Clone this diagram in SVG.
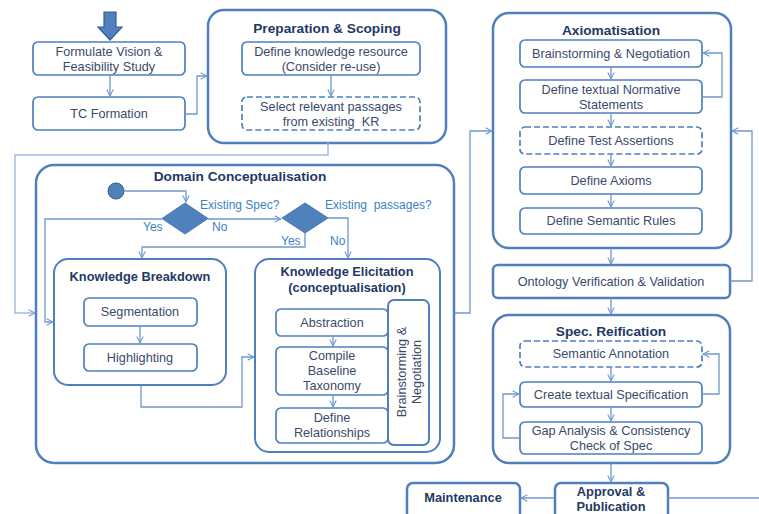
<svg xmlns="http://www.w3.org/2000/svg" width="759" height="514" viewBox="0 0 759 514">
<defs>
<marker id="arr" viewBox="0 0 10 10" refX="9" refY="5" markerWidth="8" markerHeight="8" markerUnits="userSpaceOnUse" orient="auto">
<path d="M1,1 L9,5 L1,9" fill="none" stroke="#6f97cc" stroke-width="1.3"/>
</marker>
</defs>
<style>
.outer{fill:#fff;stroke:#4f7fbd;stroke-width:2.5}
.mid{fill:#fff;stroke:#4f7fbd;stroke-width:2}
.box{fill:#fff;stroke:#4f7fbd;stroke-width:1.7}
.dash{fill:#fff;stroke:#4f7fbd;stroke-width:1.7;stroke-dasharray:6 3}
.t{font-family:"Liberation Sans",Arial,sans-serif;font-size:12.7px;fill:#3a4a6b;text-anchor:middle}
.h{font-family:"Liberation Sans",Arial,sans-serif;font-size:13.7px;font-weight:bold;fill:#1f3864;text-anchor:middle}
.h2{font-family:"Liberation Sans",Arial,sans-serif;font-size:12.8px;font-weight:bold;fill:#1f3864;text-anchor:middle}
.lbl{font-family:"Liberation Sans",Arial,sans-serif;font-size:12px;fill:#3b82c4;white-space:pre}
.c{fill:none;stroke:#6f97cc;stroke-width:1.3}
.cl{fill:none;stroke:#a2bde2;stroke-width:1.5}
.dec{fill:#4f81bd;stroke:#4a78b0;stroke-width:1}
</style>

<g id="start-arrow">
<polygon points="104,12 116,12 116,27 122,27 110,40 98,27 104,27" fill="#4f81bd" stroke="#385d8a" stroke-width="1.2"/>
</g>

<g id="formulate">
<rect class="box" x="33" y="42" width="152" height="33" rx="5"/>
<text class="t"><tspan x="109" y="56">Formulate Vision &amp;</tspan><tspan x="109" y="71">Feasibility Study</tspan></text>
</g>
<g id="tc-formation">
<rect class="box" x="33" y="97" width="152" height="33" rx="5"/>
<text class="t" x="109" y="118">TC Formation</text>
</g>

<g id="preparation">
<rect class="outer" x="208" y="10" width="238" height="133" rx="16"/>
<text class="h" x="327" y="33">Preparation &amp; Scoping</text>
</g>
<g id="define-kr">
<rect class="box" x="242" y="42" width="178" height="33" rx="5"/>
<text class="t"><tspan x="331" y="56">Define knowledge resource</tspan><tspan x="331" y="71">(Consider re-use)</tspan></text>
</g>
<g id="select-passages">
<rect class="dash" x="242" y="97" width="178" height="33" rx="5"/>
<text class="t" style="white-space:pre"><tspan x="331" y="111">Select relevant passages</tspan><tspan x="331" y="126">from existing  KR</tspan></text>
</g>

<g id="domain">
<rect class="outer" x="36" y="165" width="418" height="298" rx="18"/>
<text class="h" x="240" y="181">Domain Conceptualisation</text>
</g>
<g id="initial">
<circle cx="116" cy="191" r="8" fill="#4f81bd" stroke="#385d8a" stroke-width="1"/>
</g>
<g id="decision-spec">
<polygon class="dec" points="185,203 208,218.5 185,234 162,218.5"/>
<text class="lbl" x="200" y="209">Existing Spec?</text>
</g>
<g id="decision-passages">
<polygon class="dec" points="305,203 328,218 305,233 282,218"/>
<text class="lbl" x="325" y="209">Existing  passages?</text>
</g>

<g id="breakdown">
<rect class="mid" x="54" y="259" width="172" height="126" rx="14"/>
<text class="h2" x="140" y="281">Knowledge Breakdown</text>
</g>
<g id="segmentation">
<rect class="box" x="84" y="298" width="113" height="28" rx="5"/>
<text class="t" x="140" y="316">Segmentation</text>
</g>
<g id="highlighting">
<rect class="box" x="84" y="344" width="113" height="27" rx="5"/>
<text class="t" x="140" y="362">Highlighting</text>
</g>

<g id="elicitation">
<rect class="mid" x="255" y="259" width="185" height="193" rx="14"/>
<text class="h2"><tspan x="347" y="276">Knowledge Elicitation</tspan><tspan x="347" y="292">(conceptualisation)</tspan></text>
</g>
<g id="abstraction">
<rect class="box" x="276" y="309" width="112" height="27" rx="5"/>
<text class="t" x="332" y="327">Abstraction</text>
</g>
<g id="taxonomy">
<rect class="box" x="276" y="347" width="112" height="48" rx="5"/>
<text class="t"><tspan x="332" y="360">Compile</tspan><tspan x="332" y="375">Baseline</tspan><tspan x="332" y="390">Taxonomy</tspan></text>
</g>
<g id="relationships">
<rect class="box" x="276" y="408" width="112" height="35" rx="5"/>
<text class="t"><tspan x="332" y="422">Define</tspan><tspan x="332" y="437">Relationships</tspan></text>
</g>
<g id="brainstorm-vertical">
<rect class="mid" x="388" y="300" width="41" height="145" rx="6"/>
<text class="t" transform="translate(408,372) rotate(-90)"><tspan x="0" y="-2">Brainstorming &amp;</tspan><tspan x="0" y="13">Negotiation</tspan></text>
</g>

<g id="axiomatisation">
<rect class="outer" x="493" y="13" width="238" height="235" rx="16"/>
<text class="h" x="611" y="35">Axiomatisation</text>
</g>
<g id="ax-brainstorm">
<rect class="box" x="520" y="40" width="182" height="27" rx="5"/>
<text class="t" x="611" y="58">Brainstorming &amp; Negotiation</text>
</g>
<g id="ax-normative">
<rect class="box" x="520" y="80" width="182" height="33" rx="5"/>
<text class="t"><tspan x="611" y="94">Define textual Normative</tspan><tspan x="611" y="109">Statements</tspan></text>
</g>
<g id="ax-test">
<rect class="dash" x="520" y="127" width="182" height="27" rx="5"/>
<text class="t" x="611" y="145">Define Test Assertions</text>
</g>
<g id="ax-axioms">
<rect class="box" x="520" y="167" width="182" height="27" rx="5"/>
<text class="t" x="611" y="185">Define Axioms</text>
</g>
<g id="ax-rules">
<rect class="box" x="520" y="208" width="182" height="26" rx="5"/>
<text class="t" x="611" y="225">Define Semantic Rules</text>
</g>

<g id="ontology-vv">
<rect class="outer" x="493" y="265" width="237" height="33" rx="5"/>
<text class="t" x="611" y="286">Ontology Verification &amp; Validation</text>
</g>

<g id="spec-reification">
<rect class="outer" x="493" y="315" width="237" height="148" rx="16"/>
<text class="h" x="611" y="336">Spec. Reification</text>
</g>
<g id="semantic-annotation">
<rect class="dash" x="520" y="341" width="182" height="26" rx="5"/>
<text class="t" x="611" y="358">Semantic Annotation</text>
</g>
<g id="create-spec">
<rect class="box" x="520" y="382" width="182" height="25" rx="5"/>
<text class="t" x="611" y="399">Create textual Specification</text>
</g>
<g id="gap-analysis">
<rect class="box" x="520" y="422" width="182" height="32" rx="5"/>
<text class="t"><tspan x="611" y="435">Gap Analysis &amp; Consistency</tspan><tspan x="611" y="450">Check of Spec</tspan></text>
</g>

<g id="approval">
<rect class="outer" x="555" y="483" width="113" height="45" rx="6"/>
<text class="h2"><tspan x="611" y="496">Approval &amp;</tspan><tspan x="611" y="511">Publication</tspan></text>
</g>
<g id="maintenance">
<rect class="outer" x="407" y="483" width="113" height="45" rx="6"/>
<text class="h2" x="463" y="502">Maintenance</text>
</g>

<g id="connectors">
<path class="c" d="M110,75 V96" marker-end="url(#arr)"/>
<path class="c" d="M185,114 H197 V76 H207" marker-end="url(#arr)"/>
<path class="c" d="M331,75 V96" marker-end="url(#arr)"/>
<path class="cl" d="M328,143 V155 H15 V313 H35" marker-end="url(#arr)"/>
<path class="c" d="M124,191 H186 V202" marker-end="url(#arr)"/>
<path class="c" d="M162,219 H45 V322 H53" marker-end="url(#arr)"/>
<path class="c" d="M208,219 H281" marker-end="url(#arr)"/>
<path class="c" d="M305,233 V247 H142 V258" marker-end="url(#arr)"/>
<path class="c" d="M328,218 H348 V258" marker-end="url(#arr)"/>
<path class="c" d="M141,386 V407 H242 V357 H254" marker-end="url(#arr)"/>
<path class="c" d="M140,326 V343" marker-end="url(#arr)"/>
<path class="c" d="M333,336 V346" marker-end="url(#arr)"/>
<path class="c" d="M333,395 V407" marker-end="url(#arr)"/>
<path class="c" d="M454,313 H470 V131 H492" marker-end="url(#arr)"/>
<path class="c" d="M611,67 V79" marker-end="url(#arr)"/>
<path class="c" d="M611,113 V126" marker-end="url(#arr)"/>
<path class="c" d="M611,154 V166" marker-end="url(#arr)"/>
<path class="c" d="M611,194 V207" marker-end="url(#arr)"/>
<path class="c" d="M702,97 H722 V53 H703" marker-end="url(#arr)"/>
<path class="c" d="M611,248 V264" marker-end="url(#arr)"/>
<path class="c" d="M730,281 H752 V131 H732" marker-end="url(#arr)"/>
<path class="c" d="M611,298 V314" marker-end="url(#arr)"/>
<path class="c" d="M611,367 V381" marker-end="url(#arr)"/>
<path class="c" d="M611,407 V421" marker-end="url(#arr)"/>
<path class="c" d="M702,394 H719 V354 H703" marker-end="url(#arr)"/>
<path class="c" d="M520,438 H503 V394 H519" marker-end="url(#arr)"/>
<path class="c" d="M611,463 V482" marker-end="url(#arr)"/>
<path class="c" d="M555,498 H521" marker-end="url(#arr)"/>
<path class="c" d="M668,498 H759"/>
<text class="lbl" x="143" y="231">Yes</text>
<text class="lbl" x="212" y="231">No</text>
<text class="lbl" x="281" y="245">Yes</text>
<text class="lbl" x="330" y="245">No</text>
</g>
</svg>
